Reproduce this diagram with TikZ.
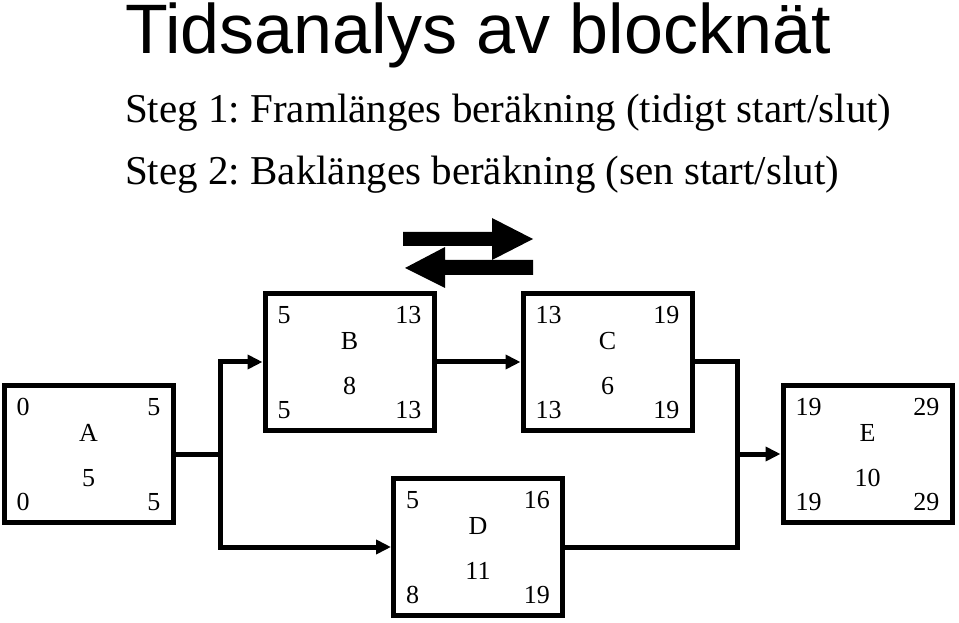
\documentclass[tikz,border=0pt]{standalone}
\usepackage{fontspec}
\setmainfont{Liberation Serif}
\newfontfamily\titlefont{Liberation Sans}
\usetikzlibrary{arrows.meta}
\frenchspacing

\begin{document}
\begin{tikzpicture}[x=1pt, y=1pt]
  \useasboundingbox (0,0) rectangle (959,622);  % Bildformat wie Vorlage.

  \tikzstyle{block}=[draw, line width=5pt, minimum width=169pt, minimum height=137pt, inner sep=0pt]
  \tikzstyle{num}=[inner sep=0pt, font=\fontsize{26}{30}\selectfont]
  \tikzstyle{wire}=[line width=5pt]
  \tikzstyle{arr}=[wire, -{Triangle[length=15pt, width=14pt]}]
  \tikzstyle{heading}=[inner sep=0pt, anchor=base west, font=\fontsize{41}{46}\selectfont]

  \node[inner sep=0pt, anchor=base, font={\titlefont\fontsize{70}{80}\selectfont}] (title) at (478,568) {Tidsanalys av blocknät};
  \node[heading] (step1) at (125,499) {Steg 1: Framlänges beräkning (tidigt start/slut)};
  \node[heading] (step2) at (125,437) {Steg 2: Baklänges beräkning (sen start/slut)};

  % Pfeile fram/tillbaka
  \fill (403,390) -- (492,390) -- (492,404) -- (533,383) -- (492,362) -- (492,376) -- (403,376) -- cycle;
  \fill (405,354) -- (445,375) -- (445,362) -- (533,362) -- (533,347) -- (445,347) -- (445,334) -- cycle;

  % A
  \node[block] (A) at (88.5,168) {};
  \node[num] (A-name) at ([yshift=21pt]A.center) {A};
  \node[num] (A-dur)  at ([yshift=-24pt]A.center) {5};
  \node[num, anchor=west] (A-es) at ([shift={(15,-24)}]A.north west) {0};
  \node[num, anchor=east] (A-ef) at ([shift={(-15,-24)}]A.north east) {5};
  \node[num, anchor=west] (A-ls) at ([shift={(15,23)}]A.south west) {0};
  \node[num, anchor=east] (A-lf) at ([shift={(-15,23)}]A.south east) {5};

  % B
  \node[block] (B) at (349.5,260) {};
  \node[num] (B-name) at ([yshift=21pt]B.center) {B};
  \node[num] (B-dur)  at ([yshift=-24pt]B.center) {8};
  \node[num, anchor=west] (B-es) at ([shift={(15,-24)}]B.north west) {5};
  \node[num, anchor=east] (B-ef) at ([shift={(-15,-24)}]B.north east) {13};
  \node[num, anchor=west] (B-ls) at ([shift={(15,23)}]B.south west) {5};
  \node[num, anchor=east] (B-lf) at ([shift={(-15,23)}]B.south east) {13};

  % C
  \node[block] (C) at (607.5,260) {};
  \node[num] (C-name) at ([yshift=21pt]C.center) {C};
  \node[num] (C-dur)  at ([yshift=-24pt]C.center) {6};
  \node[num, anchor=west] (C-es) at ([shift={(15,-24)}]C.north west) {13};
  \node[num, anchor=east] (C-ef) at ([shift={(-15,-24)}]C.north east) {19};
  \node[num, anchor=west] (C-ls) at ([shift={(15,23)}]C.south west) {13};
  \node[num, anchor=east] (C-lf) at ([shift={(-15,23)}]C.south east) {19};

  % D
  \node[block] (D) at (478,75) {};
  \node[num] (D-name) at ([yshift=21pt]D.center) {D};
  \node[num] (D-dur)  at ([yshift=-24pt]D.center) {11};
  \node[num, anchor=west] (D-es) at ([shift={(15,-24)}]D.north west) {5};
  \node[num, anchor=east] (D-ef) at ([shift={(-15,-24)}]D.north east) {16};
  \node[num, anchor=west] (D-ls) at ([shift={(15,23)}]D.south west) {8};
  \node[num, anchor=east] (D-lf) at ([shift={(-15,23)}]D.south east) {19};

  % E
  \node[block] (E) at (867.5,168) {};
  \node[num] (E-name) at ([yshift=21pt]E.center) {E};
  \node[num] (E-dur)  at ([yshift=-24pt]E.center) {10};
  \node[num, anchor=west] (E-es) at ([shift={(15,-24)}]E.north west) {19};
  \node[num, anchor=east] (E-ef) at ([shift={(-15,-24)}]E.north east) {29};
  \node[num, anchor=west] (E-ls) at ([shift={(15,23)}]E.south west) {19};
  \node[num, anchor=east] (E-lf) at ([shift={(-15,23)}]E.south east) {29};

  \coordinate (split) at (220,168);
  \coordinate (merge) at (737,168);

  \draw[wire] (A.east) -- (split);
  \draw[arr] (split) |- (B.west);
  \draw[arr] (split) |- (D.west);
  \draw[arr] (B.east) -- (C.west);
  \draw[wire] (C.east) -| (merge);
  \draw[wire] (D.east) -| (merge);
  \draw[arr] (merge) -- (E.west);
\end{tikzpicture}
\end{document}
